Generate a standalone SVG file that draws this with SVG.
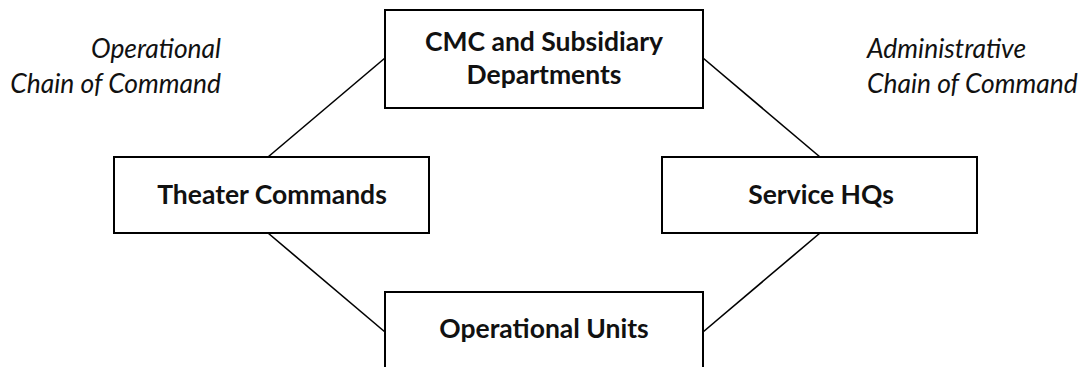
<svg xmlns="http://www.w3.org/2000/svg" width="1086" height="367" viewBox="0 0 1086 367">
<style>
.box{fill:#fff;stroke:#000;stroke-width:2}
.lbl{font-family:Lato,"Open Sans",sans-serif;font-weight:bold;font-size:26.5px;fill:#111;text-anchor:middle}
.note{font-family:Lato,"Open Sans",sans-serif;font-style:italic;font-size:26.4px;fill:#111}
.conn{stroke:#000;stroke-width:1.6;fill:none}
</style>
<g id="connectors">
<line class="conn" x1="385" y1="58" x2="268" y2="157"/>
<line class="conn" x1="703" y1="58" x2="820" y2="157"/>
<line class="conn" x1="268" y1="233" x2="385" y2="332"/>
<line class="conn" x1="820" y1="233" x2="703" y2="332"/>
</g>
<g id="cmc">
<rect class="box" x="385" y="10" width="318" height="98"/>
<text class="lbl" x="544" y="51">CMC and Subsidiary</text>
<text class="lbl" x="544" y="84">Departments</text>
</g>
<g id="theater">
<rect class="box" x="114" y="157" width="315" height="76"/>
<text class="lbl" x="272" y="204">Theater Commands</text>
</g>
<g id="service">
<rect class="box" x="662" y="157" width="315" height="76"/>
<text class="lbl" x="821" y="204">Service HQs</text>
</g>
<g id="units">
<rect class="box" x="385" y="292" width="318" height="90"/>
<text class="lbl" x="544" y="338">Operational Units</text>
</g>
<g id="notes">
<text class="note" x="221" y="58" text-anchor="end">Operational</text>
<text class="note" x="221" y="93" text-anchor="end">Chain of Command</text>
<text class="note" x="867" y="58">Administrative</text>
<text class="note" x="867" y="93">Chain of Command</text>
</g>
</svg>
